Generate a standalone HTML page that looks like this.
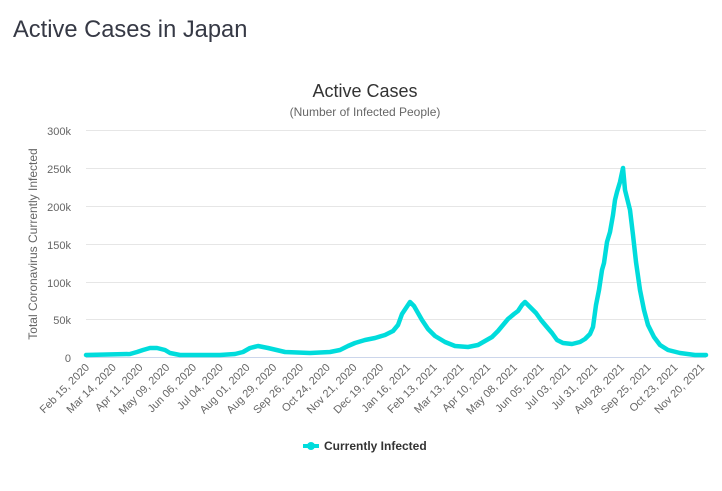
<!DOCTYPE html>
<html><head><meta charset="utf-8"><style>
body{margin:0;background:#fff;width:722px;height:486px;overflow:hidden;font-family:"Liberation Sans",Arial,sans-serif}
</style></head><body>
<svg width="722" height="486" xmlns="http://www.w3.org/2000/svg" font-family="Liberation Sans, Arial, sans-serif">
<text x="13" y="37" font-size="23.7" fill="#363945">Active Cases in Japan</text>
<text x="365" y="97" font-size="18" fill="#333" text-anchor="middle">Active Cases</text>
<text x="365" y="116" font-size="12" fill="#666" text-anchor="middle">(Number of Infected People)</text>
<g stroke="#e6e6e6" stroke-width="1">
<line x1="86" x2="706" y1="130.5" y2="130.5"/><line x1="86" x2="706" y1="168.5" y2="168.5"/>
<line x1="86" x2="706" y1="206.5" y2="206.5"/><line x1="86" x2="706" y1="244.5" y2="244.5"/>
<line x1="86" x2="706" y1="282.5" y2="282.5"/><line x1="86" x2="706" y1="319.5" y2="319.5"/>
</g>
<line x1="86" x2="706" y1="357.5" y2="357.5" stroke="#ccd6eb"/>
<g font-size="11" fill="#666" text-anchor="end">
<text x="71" y="135">300k</text><text x="71" y="173">250k</text><text x="71" y="211">200k</text>
<text x="71" y="249">150k</text><text x="71" y="287">100k</text><text x="71" y="324">50k</text><text x="71" y="362">0</text>
</g>
<text transform="translate(37,244) rotate(-90)" font-size="12" fill="#666" text-anchor="middle">Total Coronavirus Currently Infected</text>
<g font-size="11" fill="#666" text-anchor="end">
<text transform="translate(90,368) rotate(-45)">Feb 15, 2020</text>
<text transform="translate(116.7,368) rotate(-45)">Mar 14, 2020</text>
<text transform="translate(143.5,368) rotate(-45)">Apr 11, 2020</text>
<text transform="translate(170.2,368) rotate(-45)">May 09, 2020</text>
<text transform="translate(197,368) rotate(-45)">Jun 06, 2020</text>
<text transform="translate(223.7,368) rotate(-45)">Jul 04, 2020</text>
<text transform="translate(250.4,368) rotate(-45)">Aug 01, 2020</text>
<text transform="translate(277.2,368) rotate(-45)">Aug 29, 2020</text>
<text transform="translate(303.9,368) rotate(-45)">Sep 26, 2020</text>
<text transform="translate(330.7,368) rotate(-45)">Oct 24, 2020</text>
<text transform="translate(357.4,368) rotate(-45)">Nov 21, 2020</text>
<text transform="translate(384.1,368) rotate(-45)">Dec 19, 2020</text>
<text transform="translate(410.9,368) rotate(-45)">Jan 16, 2021</text>
<text transform="translate(437.6,368) rotate(-45)">Feb 13, 2021</text>
<text transform="translate(464.4,368) rotate(-45)">Mar 13, 2021</text>
<text transform="translate(491.1,368) rotate(-45)">Apr 10, 2021</text>
<text transform="translate(517.8,368) rotate(-45)">May 08, 2021</text>
<text transform="translate(544.6,368) rotate(-45)">Jun 05, 2021</text>
<text transform="translate(571.3,368) rotate(-45)">Jul 03, 2021</text>
<text transform="translate(598.1,368) rotate(-45)">Jul 31, 2021</text>
<text transform="translate(624.8,368) rotate(-45)">Aug 28, 2021</text>
<text transform="translate(651.5,368) rotate(-45)">Sep 25, 2021</text>
<text transform="translate(678.3,368) rotate(-45)">Oct 23, 2021</text>
<text transform="translate(705,368) rotate(-45)">Nov 20, 2021</text>
</g>
<polyline fill="none" stroke="#00dcdc" stroke-width="4.5" stroke-linejoin="round" stroke-linecap="round" points="86,355 130,354 137,352 143,350 150,348 157,348 165,350 170,353 180,355 220,355 235,354 243,352 250,348 258,346 268,348 285,352 310,353 330,352 340,350 348,346 355,343 365,340 375,338 385,335 393,331 398,325 402,314 406,308 410,302 414,306 418,313 422,320 428,329 435,336 445,342 455,346 468,347 478,345 485,341 492,337 498,331 503,325 508,319 514,314 518,311 522,305 525,302 530,307 536,313 541,320 546,326 552,333 557,340 563,343 572,344 580,342 585,339 590,334 593,327 596,305 599,290 602,270 604,263 607,242 610,232 613,215 615,200 617,192 620,182 623,168 625,190 627,198 630,210 633,235 636,262 640,290 644,310 648,325 654,337 660,345 668,350 680,353 695,355 706,355"/>
<line x1="303" x2="319" y1="446" y2="446" stroke="#00dcdc" stroke-width="4"/>
<circle cx="311" cy="446" r="4" fill="#00dcdc"/>
<text x="324" y="450" font-size="12" font-weight="bold" fill="#333">Currently Infected</text>
</svg>
</body></html>
